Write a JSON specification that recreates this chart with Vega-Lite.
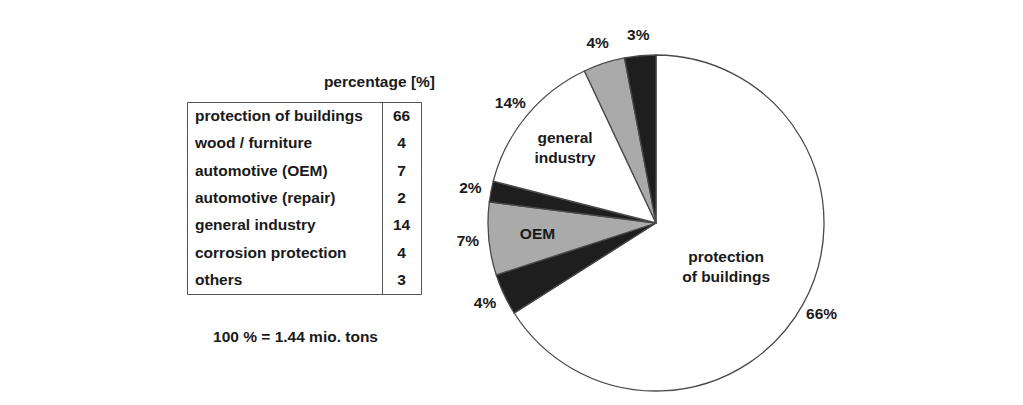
{
  "$schema": "https://vega.github.io/schema/vega-lite/v6.json",
  "background": "white",
  "padding": {"left": 186, "top": 27, "right": 5, "bottom": 5},
  "data": {"values": [
    {"order": 1, "category": "protection of buildings", "pct": 66, "label": "66%", "inner": "protection\nof buildings"},
    {"order": 2, "category": "wood / furniture", "pct": 4, "label": "4%", "inner": ""},
    {"order": 3, "category": "automotive (OEM)", "pct": 7, "label": "7%", "inner": "OEM"},
    {"order": 4, "category": "automotive (repair)", "pct": 2, "label": "2%", "inner": ""},
    {"order": 5, "category": "general industry", "pct": 14, "label": "14%", "inner": "general\nindustry"},
    {"order": 6, "category": "corrosion protection", "pct": 4, "label": "4%", "inner": ""},
    {"order": 7, "category": "others", "pct": 3, "label": "3%", "inner": ""}
  ]},
  "spacing": 0,
  "bounds": "flush",
  "hconcat": [
    {
      "width": 195,
      "height": 192,
      "view": {"stroke": "#555", "strokeWidth": 1},
      "title": {"text": "100 % = 1.44 mio. tons", "orient": "bottom", "anchor": "middle", "dx": 11, "offset": 48, "baseline": "alphabetic", "fontSize": 15.5, "fontWeight": "bold", "color": "#1a1a1a"},
      "mark": {"type": "text", "align": "left", "dx": 8, "fontSize": 15.5, "fontWeight": "bold", "color": "#1a1a1a"},
      "encoding": {
        "y": {"field": "category", "type": "nominal", "sort": {"field": "order"}, "scale": {"type": "band", "paddingInner": 0, "paddingOuter": 0}, "axis": null},
        "x": {"datum": 0, "type": "quantitative", "scale": {"domain": [0, 1]}, "axis": null},
        "text": {"field": "category", "type": "nominal"}
      }
    },
    {
      "width": 39,
      "height": 192,
      "view": {"stroke": "#555", "strokeWidth": 1},
      "title": {"text": "percentage [%]", "orient": "top", "anchor": "end", "dx": 14, "offset": 0, "baseline": "alphabetic", "fontSize": 15.5, "fontWeight": "bold", "color": "#1a1a1a"},
      "mark": {"type": "text", "align": "center", "fontSize": 15.5, "fontWeight": "bold", "color": "#1a1a1a"},
      "encoding": {
        "y": {"field": "category", "type": "nominal", "sort": {"field": "order"}, "scale": {"type": "band", "paddingInner": 0, "paddingOuter": 0}, "axis": null},
        "text": {"field": "pct", "type": "quantitative"}
      }
    },
    {
      "width": 470,
      "height": 242,
      "view": {"stroke": null},
      "encoding": {
        "theta": {"field": "pct", "type": "quantitative", "stack": true},
        "order": {"field": "order", "type": "quantitative"},
        "detail": {"field": "category", "type": "nominal"}
      },
      "layer": [
        {
          "mark": {"type": "arc", "outerRadius": 168, "stroke": "#4a4a4a", "strokeWidth": 1.3},
          "encoding": {
            "color": {"field": "category", "type": "nominal", "legend": null,
              "scale": {"domain": ["protection of buildings", "wood / furniture", "automotive (OEM)", "automotive (repair)", "general industry", "corrosion protection", "others"],
                        "range": ["#ffffff", "#1e1e1e", "#aaaaaa", "#1e1e1e", "#ffffff", "#aaaaaa", "#1e1e1e"]}}
          }
        },
        {
          "mark": {"type": "text", "radius": 189, "fontSize": 15.5, "fontWeight": "bold", "color": "#1a1a1a"},
          "encoding": {"text": {"field": "label", "type": "nominal"}}
        },
        {
          "mark": {"type": "text", "radius": 80, "dy": -5, "lineBreak": "\n", "lineHeight": 20, "fontSize": 15.5, "fontWeight": "bold", "color": "#1a1a1a"},
          "encoding": {"text": {"condition": {"test": "datum.order == 1", "field": "inner", "type": "nominal"}, "value": ""}}
        },
        {
          "mark": {"type": "text", "radius": 118, "dy": -10, "lineBreak": "\n", "lineHeight": 20, "fontSize": 15.5, "fontWeight": "bold", "color": "#1a1a1a"},
          "encoding": {"text": {"condition": {"test": "datum.order == 5", "field": "inner", "type": "nominal"}, "value": ""}}
        },
        {
          "mark": {"type": "text", "radius": 119, "fontSize": 15.5, "fontWeight": "bold", "color": "#1a1a1a"},
          "encoding": {"text": {"condition": {"test": "datum.order == 3", "field": "inner", "type": "nominal"}, "value": ""}}
        }
      ]
    }
  ],
  "config": {
    "font": "Liberation Sans",
    "view": {"strokeWidth": 1}
  }
}
